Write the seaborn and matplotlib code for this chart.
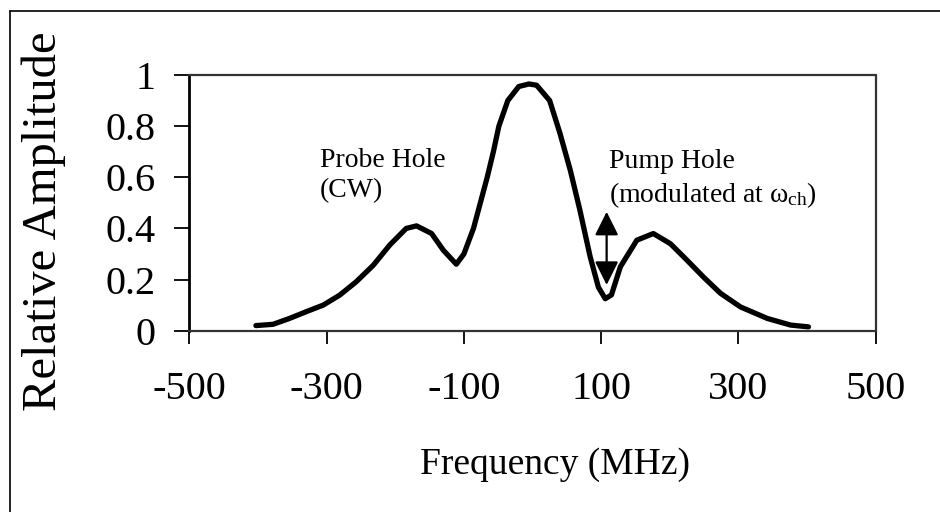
import matplotlib
matplotlib.use("Agg")
import matplotlib.pyplot as plt
import seaborn as sns
import pandas as pd
from matplotlib.lines import Line2D

# Data
freq_mhz = [-403, -378, -354, -330, -305, -281, -257, -232, -208, -184, -169,
            -147, -130, -111, -100, -86, -76, -66, -57, -49, -36, -20, -5, 6,
            25, 40, 55, 69, 84, 96, 106, 115, 128, 152, 176, 201, 225, 249,
            274, 303, 342, 376, 402]
rel_amp = [0.02, 0.025, 0.048, 0.074, 0.10, 0.139, 0.191, 0.256, 0.335, 0.40,
           0.41, 0.38, 0.315, 0.26, 0.30, 0.40, 0.50, 0.60, 0.70, 0.80, 0.90,
           0.955, 0.965, 0.96, 0.90, 0.772, 0.628, 0.472, 0.289, 0.17, 0.125,
           0.14, 0.25, 0.354, 0.38, 0.34, 0.276, 0.21, 0.146, 0.093, 0.048,
           0.022, 0.015]
x_ticks = [-500, -300, -100, 100, 300, 500]
y_ticks = [0, 0.2, 0.4, 0.6, 0.8, 1]
y_tick_labels = ["0", "0.2", "0.4", "0.6", "0.8", "1"]
pump_arrow_x = 108
pump_arrow_y = [0.465, 0.179]

sns.set_theme(style="white")
plt.rcParams["font.family"] = ["Liberation Serif", "DejaVu Serif"]
plt.rcParams["mathtext.fontset"] = "custom"
plt.rcParams["mathtext.rm"] = "Liberation Serif"

df = pd.DataFrame({"Frequency (MHz)": freq_mhz, "Relative Amplitude": rel_amp})

fig = plt.figure(figsize=(9.4, 5.12), dpi=100)
ax = fig.add_axes([0.2014, 0.3541, 0.7302, 0.4994])

sns.lineplot(data=df, x="Frequency (MHz)", y="Relative Amplitude", ax=ax,
             sort=False, color="black", linewidth=3.8)

ax.set_xlim(-500, 500)
ax.set_ylim(0, 1)
ax.set_xticks(x_ticks)
ax.set_xticklabels([str(v) for v in x_ticks])
ax.set_yticks(y_ticks)
ax.set_yticklabels(y_tick_labels)

ax.tick_params(axis="both", which="both", direction="out", color="black",
               width=1.3, labelsize=29, labelcolor="black")
ax.tick_params(axis="y", length=11, pad=13, left=True)
ax.tick_params(axis="x", length=9, pad=20, bottom=True)

ax.spines["left"].set_color("black")
ax.spines["left"].set_linewidth(2.0)
for s in ["top", "right", "bottom"]:
    ax.spines[s].set_visible(True)
    ax.spines[s].set_color("#333333")
    ax.spines[s].set_linewidth(1.6)
    ax.spines[s].set_linestyle((0, (1, 1)))

ax.set_xlabel("Frequency (MHz)", fontsize=27, color="black")
ax.set_ylabel("Relative Amplitude", fontsize=35, color="black")
ax.xaxis.set_label_coords(0.533, -0.455)
ax.yaxis.set_label_coords(-0.179, 0.427)

# Annotations
ax.text(-310, 0.607, "Probe Hole\n(CW)", fontsize=20, ha="left", va="center",
        color="black", linespacing=1.3)
ax.text(111, 0.59, "Pump Hole\n(modulated at $\\mathregular{ω_{ch}}$)",
        fontsize=20, ha="left", va="center", color="black", linespacing=1.3)
ax.annotate("", xy=(pump_arrow_x, pump_arrow_y[0]),
            xytext=(pump_arrow_x, pump_arrow_y[1]),
            arrowprops=dict(arrowstyle="<|-|>,head_length=1.2,head_width=0.6",
                            color="black", lw=1.6, shrinkA=0, shrinkB=0))

# Outer frame (top and left edges visible)
fig.add_artist(Line2D([10 / 940, 10 / 940], [0, 1 - 11 / 512],
                      transform=fig.transFigure, color="black", lw=1.2))
fig.add_artist(Line2D([10 / 940, 1], [1 - 11 / 512, 1 - 11 / 512],
                      transform=fig.transFigure, color="black", lw=1.2))

fig.savefig("out.png", dpi=100)
